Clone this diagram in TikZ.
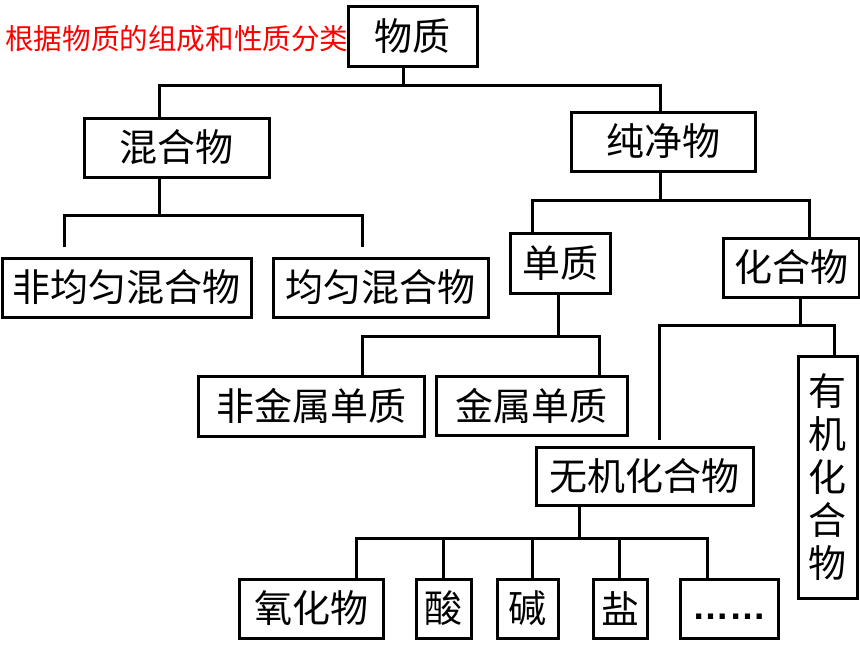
\documentclass[tikz,border=0pt]{standalone}
\usepackage{fontspec}
\newfontfamily\cjk{Noto Sans CJK SC}
\newfontfamily\latinsans{Liberation Sans}
\begin{document}
\begin{tikzpicture}[x=1pt,y=-1pt,
  box/.style={draw=black,line width=3pt,inner sep=0pt,font=\cjk\fontsize{38}{44}\selectfont},
  conn/.style={draw=black,line width=3pt,line cap=butt,line join=miter},
  title/.style={text=red,inner sep=0pt,font=\cjk\fontsize{28.6}{32}\selectfont}]
\useasboundingbox[fill=white] (0,0) rectangle (860,645);
% boxes
\node[box,minimum width=129pt,minimum height=60pt] (wz) at (412.5,36) {物质};
\node[title,anchor=west] (tt) at (5,38.5) {根据物质的组成和性质分类};
\node[box,minimum width=185pt,minimum height=59pt] (hh) at (176.5,147.5) {混合物};
\node[box,minimum width=184pt,minimum height=59pt] (cj) at (663,141.5) {纯净物};
\node[box,minimum width=249pt,minimum height=59pt] (fj) at (126.5,287.5) {非均匀混合物};
\node[box,minimum width=215pt,minimum height=59pt] (jy) at (380.5,287.5) {均匀混合物};
\node[box,minimum width=100pt,minimum height=60pt] (dz) at (560,263) {单质};
\node[box,minimum width=136pt,minimum height=59pt] (hw) at (791,267.5) {化合物};
\node[box,minimum width=226pt,minimum height=60pt] (fjs) at (311,406) {非金属单质};
\node[box,minimum width=191pt,minimum height=59pt] (jsd) at (531.5,405.5) {金属单质};
\node[box,minimum width=217pt,minimum height=58pt] (wj) at (644.5,476) {无机化合物};
\node[box,minimum width=59pt,minimum height=242pt,align=center,font=\cjk\fontsize{38}{43}\selectfont] (yj) at (827.5,477) {有\\机\\化\\合\\物};
\node[box,minimum width=144pt,minimum height=59pt] (yh) at (311,608.5) {氧化物};
\node[box,minimum width=55pt,minimum height=59pt] (sn) at (443.5,608.5) {酸};
\node[box,minimum width=61pt,minimum height=59pt] (jn) at (527.5,608.5) {碱};
\node[box,minimum width=54pt,minimum height=59pt] (yn) at (620,608.5) {盐};
\node[box,minimum width=98pt,minimum height=59pt,font=\latinsans\bfseries\fontsize{37}{40}\selectfont] (dd) at (729,608.5) {\raisebox{-11pt}[0pt][0pt]{……}};
% junction coordinates
\coordinate (a0) at (403,85);
\coordinate (a1) at (159,85);
\coordinate (a2) at (660,85);
\coordinate (b0) at (159,215);
\coordinate (b1) at (64,215);
\coordinate (b2) at (362,215);
\coordinate (c0) at (660,200);
\coordinate (c1) at (532,200);
\coordinate (c2) at (809,200);
\coordinate (d0) at (558,336);
\coordinate (d1) at (362,336);
\coordinate (d2) at (599,336);
\coordinate (e0) at (800,325);
\coordinate (e1) at (659,325);
\coordinate (e2) at (834,325);
\coordinate (f0) at (579,538);
\coordinate (f1) at (356,538);
\coordinate (f2) at (443,538);
\coordinate (f3) at (532,538);
\coordinate (f4) at (619,538);
\coordinate (f5) at (707,538);
% connectors
\draw[conn] (wz.south -| a0) -- (a0);
\draw[conn] (hh.north -| a1) -- (a1) -- (a2) -- (cj.north -| a2);
\draw[conn] (hh.south -| b0) -- (b0);
\draw[conn,shorten <=10pt,shorten >=10pt] (fj.north -| b1) -- (b1) -- (b2) -- (jy.north -| b2);
\draw[conn] (cj.south -| c0) -- (c0);
\draw[conn] (dz.north -| c1) -- (c1) -- (c2) -- (hw.north -| c2);
\draw[conn] (dz.south -| d0) -- (d0);
\draw[conn] (fjs.north -| d1) -- (d1) -- (d2) -- (jsd.north -| d2);
\draw[conn] (hw.south -| e0) -- (e0);
\draw[conn,shorten <=6pt] (wj.north -| e1) -- (e1) -- (e2) -- (yj.north -| e2);
\draw[conn] (wj.south -| f0) -- (f0);
\draw[conn] (yh.north -| f1) -- (f1) -- (f5) -- (dd.north -| f5);
\draw[conn] (sn.north -| f2) -- (f2);
\draw[conn] (jn.north -| f3) -- (f3);
\draw[conn] (yn.north -| f4) -- (f4);
\end{tikzpicture}
\end{document}
